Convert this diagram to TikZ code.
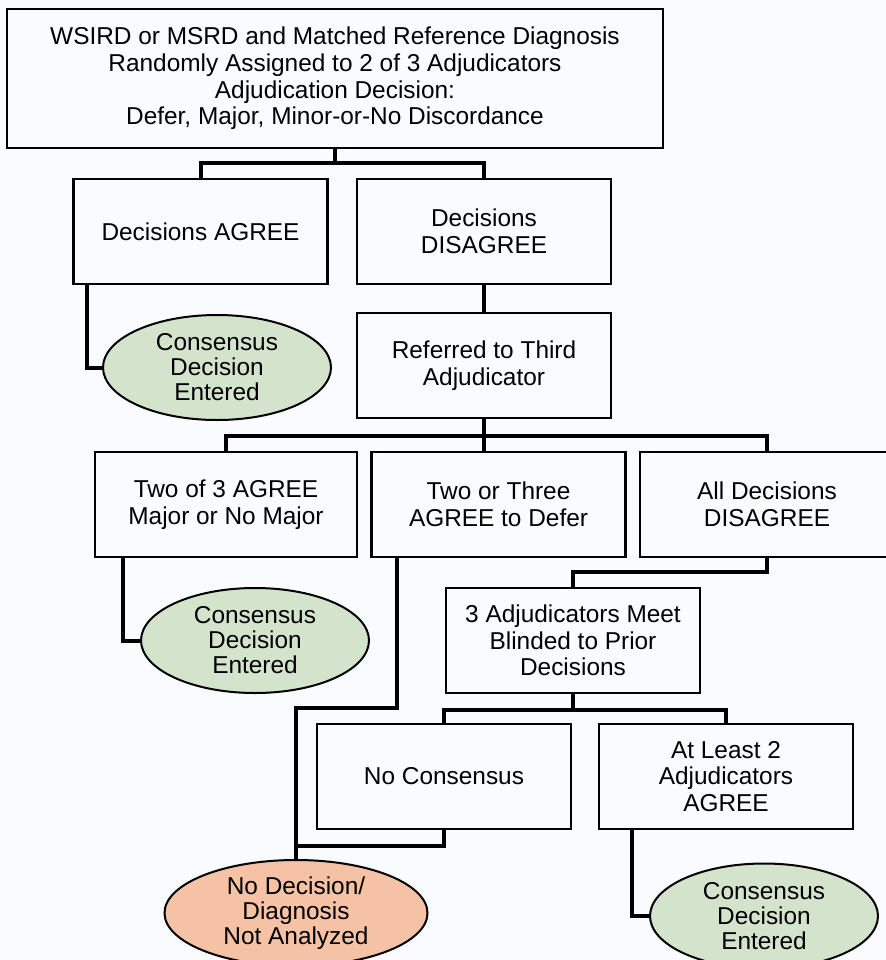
\documentclass[tikz,border=0pt]{standalone}
\usepackage{fontspec}
\setmainfont{Liberation Sans}
\usepackage{tikz}
\usepackage{xcolor}
\usetikzlibrary{shapes.geometric}
\definecolor{fcgreen}{RGB}{212, 228, 204}
\definecolor{fcorange}{RGB}{246, 194, 165}
\definecolor{fcpaper}{RGB}{250, 251, 254}
\tikzset{
    fcbox/.style={rectangle, draw, line width=1.3pt, fill=fcpaper, align=center, inner sep=0pt, minimum width=127pt, minimum height=52.5pt, font=\fontsize{12.2}{13.3}\selectfont},
    fcoval/.style={ellipse, draw, line width=1pt, align=center, inner sep=0pt, minimum width=114pt, minimum height=52.5pt, font=\fontsize{12.2}{12.5}\selectfont},
    okoval/.style={fcoval, fill=fcgreen},
    stopoval/.style={fcoval, fill=fcorange, minimum width=131.5pt, minimum height=53pt},
    fclink/.style={draw, line width=2pt}
}
\begin{document}
\begin{tikzpicture}[x=0.5pt, y=-0.5pt]
    \useasboundingbox (0,0) rectangle (886,960);
    \fill[fcpaper] (0,0) rectangle (886,960);
    \node[fcbox, minimum width=328pt, minimum height=69.5pt] (root) at (335,78.5) {WSIRD or MSRD and Matched Reference Diagnosis\\Randomly Assigned to 2 of 3 Adjudicators\\Adjudication Decision:\\Defer, Major, Minor-or-No Discordance};
    \node[fcbox] (agree) at (200.5,231.5) {Decisions AGREE};
    \node[fcbox] (disagree) at (484,231.5) {Decisions\\DISAGREE};
    \node[okoval] (ok1) at (217,367.5) {Consensus\\Decision\\Entered};
    \node[fcbox] (third) at (484,365.5) {Referred to Third\\Adjudicator};
    \node[fcbox, minimum width=131pt] (twoof) at (226,504.5) {Two of 3 AGREE\\Major or No Major};
    \node[fcbox] (defer) at (498.5,504.5) {Two or Three\\AGREE to Defer};
    \node[fcbox] (alldis) at (767,504.5) {All Decisions\\DISAGREE};
    \node[okoval] (ok2) at (255,640.5) {Consensus\\Decision\\Entered};
    \node[fcbox] (meet) at (573,640.5) {3 Adjudicators Meet\\Blinded to Prior\\Decisions};
    \node[fcbox] (nocons) at (444,776.5) {No Consensus};
    \node[fcbox] (atleast) at (726,776.5) {At Least 2\\Adjudicators\\AGREE};
    \node[stopoval] (nodec) at (296,913) {No Decision/\\Diagnosis\\Not Analyzed};
    \node[okoval] (ok3) at (764,916) {Consensus\\Decision\\Entered};
    \draw[fclink] (root.south) -- ++(0,14) -| (agree.north);
    \draw[fclink] (root.south) -- ++(0,14) -| (disagree.north);
    \draw[fclink] (agree.south west) ++(15,0) |- (ok1.west);
    \draw[fclink] (disagree.south) -- (third.north);
    \draw[fclink] (third.south) -- ++(0,17) -| (twoof.north);
    \draw[fclink] (third.south) -- ++(0,17) -| (alldis.north);
    \draw[fclink] (third.south) -- (third.south |- defer.north);
    \draw[fclink] (twoof.south west) ++(29,0) |- (ok2.west);
    \draw[fclink] (defer.south west) ++(27,0) -- ++(0,150) -| (nodec.north);
    \draw[fclink] (alldis.south) -- ++(0,14) -| (meet.north);
    \draw[fclink] (meet.south) -- ++(0,16) -| (nocons.north);
    \draw[fclink] (meet.south) -- ++(0,16) -| (atleast.north);
    \draw[fclink] (nocons.south) -- ++(0,16) -| (nodec.north);
    \draw[fclink] (atleast.south west) ++(34,0) |- (ok3.west);
\end{tikzpicture}
\end{document}
